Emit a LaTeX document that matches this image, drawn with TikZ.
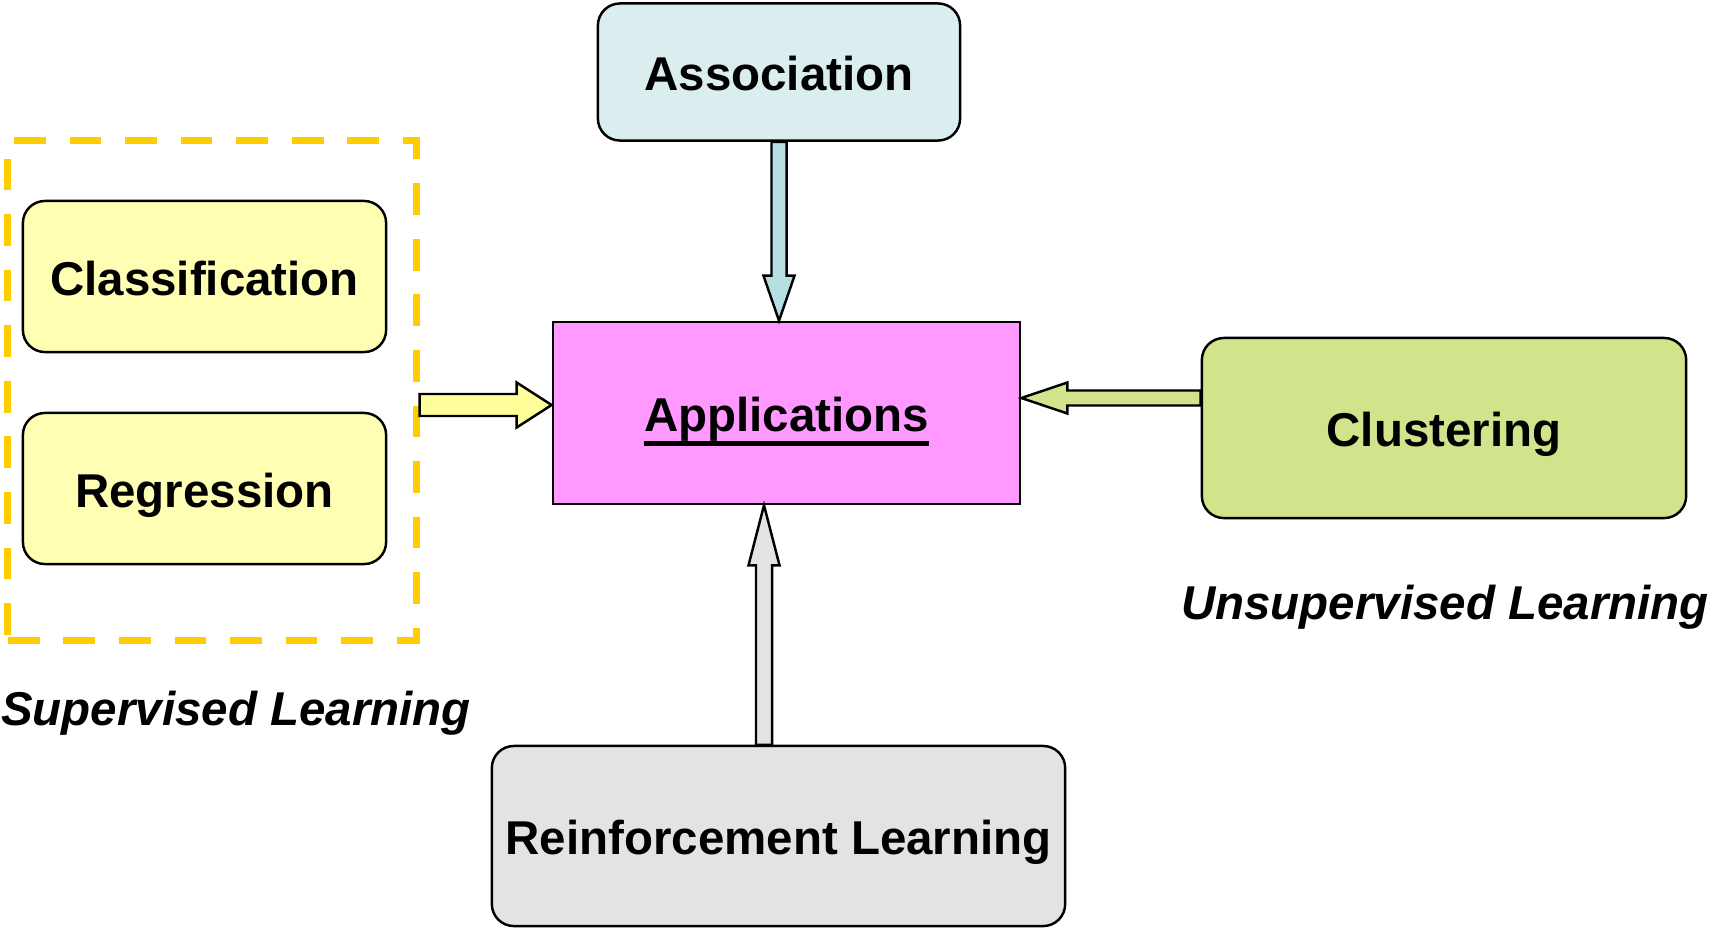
\documentclass[tikz,border=0pt]{standalone}
\usepackage{fontspec}
\setmainfont{Liberation Sans}
\usetikzlibrary{calc}

\definecolor{assocblue}{HTML}{DAEEF0}
\definecolor{arrowblue}{HTML}{B7DEE2}
\definecolor{appspink}{HTML}{FF99FF}
\definecolor{supyellow}{HTML}{FFFFB3}
\definecolor{arrowyellow}{HTML}{FFFF99}
\definecolor{dashgold}{HTML}{FFCC00}
\definecolor{clusgreen}{HTML}{D1E48C}
\definecolor{rlgray}{HTML}{E3E3E3}

% thick underline that does not change the text depth
\newcommand{\thickunderline}[1]{{\setbox0\hbox{#1}\rlap{\rule[-0.14cm]{\wd0}{0.05cm}}\box0}}

\tikzset{
  labelfont/.style={font=\fontsize{13.5}{16}\selectfont\bfseries, text height=0.375cm, text depth=0cm},
  appbox/.style={draw, line width=0.7pt, rounded corners=0.22cm, labelfont, align=center},
  groupbox/.style={draw=dashgold, line width=2pt, dash pattern=on 9pt off 6.8pt},
  blockarrowstyle/.style={draw, line width=0.7pt, line join=miter}
}

% block arrow: style, from, to, body half width, head half width, head length
\newcommand{\blockarrow}[6]{%
  \coordinate (hb) at ($(#3)!#6!(#2)$);
  \draw[blockarrowstyle, #1] ($(#2)!#4!90:(#3)$) -- ($(hb)!#4!90:(#3)$)
    -- ($(hb)!#5!90:(#3)$) -- (#3) -- ($(hb)!#5!-90:(#3)$)
    -- ($(hb)!#4!-90:(#3)$) -- ($(#2)!#4!-90:(#3)$) -- cycle;
}

\begin{document}
\begin{tikzpicture}[x=0.01cm, y=-0.01cm]
  \useasboundingbox (0,0) rectangle (1713,927);

  % boxes
  \node[appbox, fill=assocblue, minimum width=3.62cm, minimum height=1.37cm] (assoc) at (779,72) {Association};
  \node[draw, line width=0.7pt, fill=appspink, labelfont, minimum width=4.67cm, minimum height=1.82cm] (apps) at (786.5,413) {\thickunderline{Applications}};
  \node[appbox, fill=supyellow, minimum width=3.63cm, minimum height=1.51cm] (class) at (204.5,276.5) {Classification};
  \node[appbox, fill=supyellow, minimum width=3.63cm, minimum height=1.51cm] (regr) at (204.5,488.5) {Regression};
  \node[appbox, fill=clusgreen, minimum width=4.84cm, minimum height=1.80cm] (clus) at (1444,428) {Clustering};
  \node[appbox, fill=rlgray, minimum width=5.73cm, minimum height=1.80cm] (rl) at (778.5,836) {Reinforcement Learning};

  % dashed group
  \node[groupbox, minimum width=4.08cm, minimum height=4.99cm] (sup) at (212,390.5) {};

  % group labels
  \node[labelfont, font=\fontsize{13.5}{16}\selectfont\bfseries\itshape] (suplabel) at (236,707) {Supervised Learning};
  \node[labelfont, font=\fontsize{13.5}{16}\selectfont\bfseries\itshape] (unsuplabel) at (1445,601) {Unsupervised Learning};

  % arrows
  \coordinate (yfrom) at (sup.east |- 0,405);
  \coordinate (yto) at (apps.west |- 0,405);
  \blockarrow{fill=arrowyellow}{yfrom}{yto}{0.11cm}{0.225cm}{0.35cm}

  \coordinate (gfrom) at (clus.west |- 0,398);
  \coordinate (gto) at (apps.east |- 0,398);
  \blockarrow{fill=clusgreen}{gfrom}{gto}{0.075cm}{0.155cm}{0.46cm}

  \blockarrow{fill=arrowblue}{assoc.south}{apps.north -| assoc.south}{0.075cm}{0.155cm}{0.45cm}

  \coordinate (rfrom) at (rl.north -| 764,0);
  \coordinate (rto) at (apps.south -| 764,0);
  \blockarrow{fill=rlgray}{rfrom}{rto}{0.08cm}{0.155cm}{0.60cm}
\end{tikzpicture}
\end{document}
